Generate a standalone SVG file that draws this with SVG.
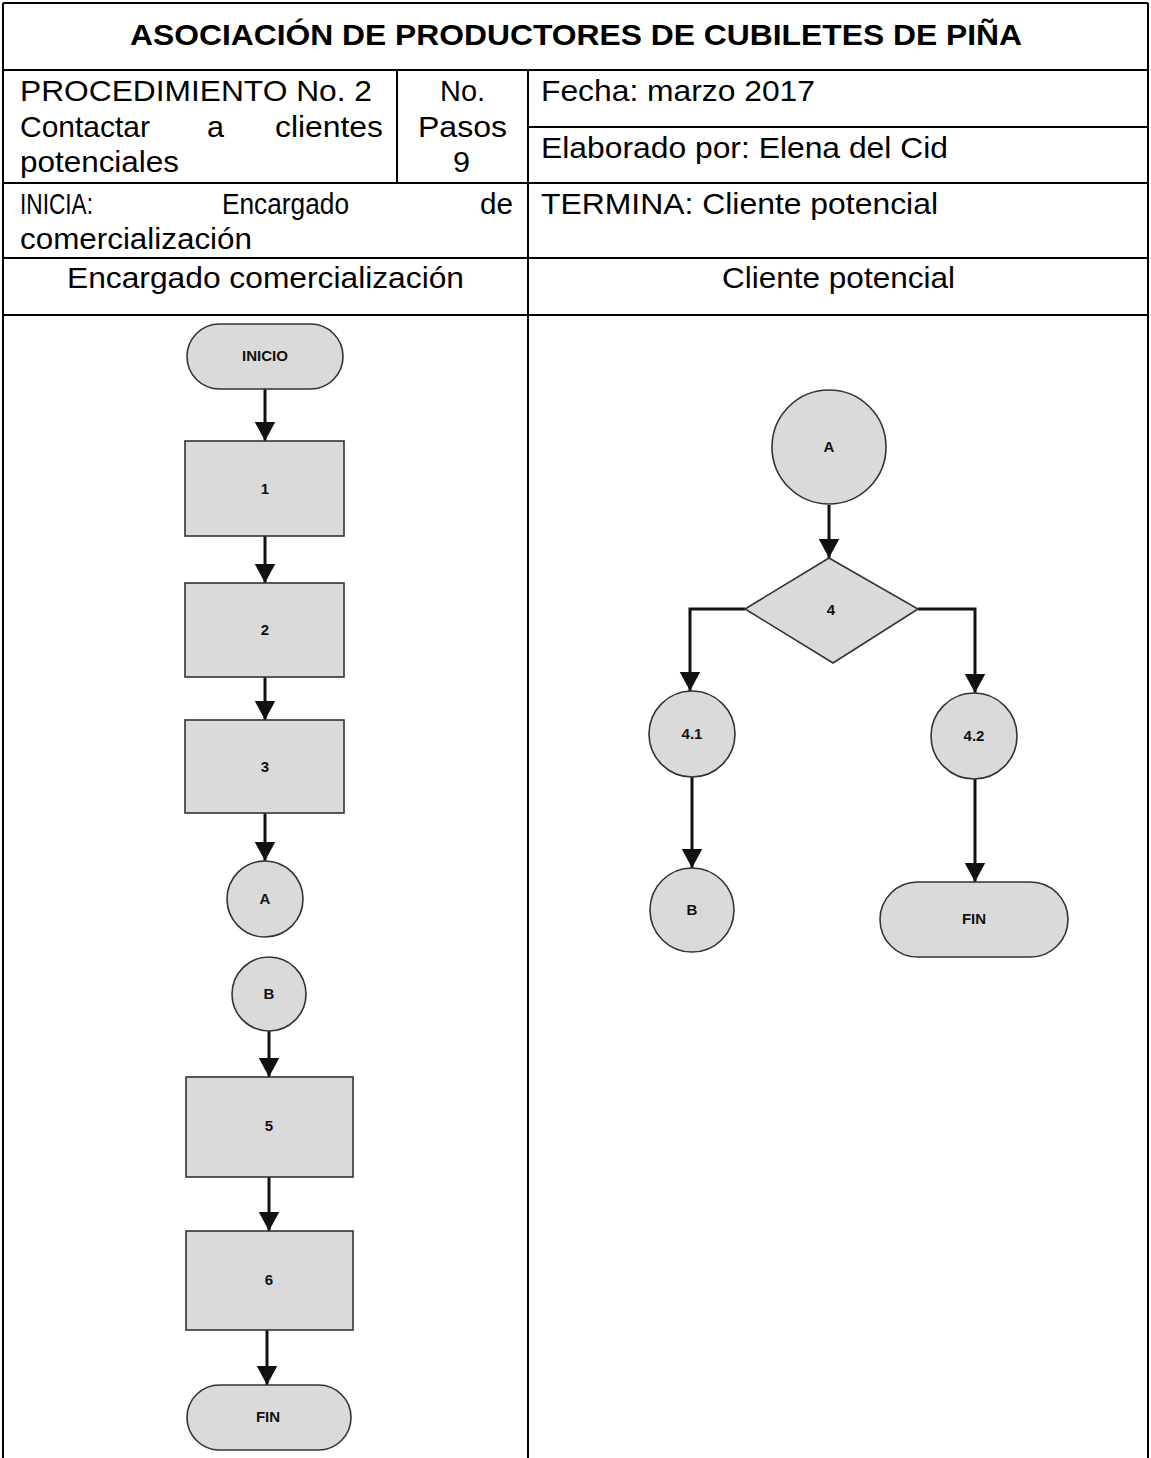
<svg xmlns="http://www.w3.org/2000/svg" width="1151" height="1458" viewBox="0 0 1151 1458">
<style>
.grid{stroke:#000;stroke-width:2;fill:none}
.h{font-family:"Liberation Sans Narrow","Liberation Sans",Arial,sans-serif;font-size:29px;fill:#000}
.t{font-weight:bold;font-size:30px}
.shape{fill:#dadada;stroke:#333;stroke-width:1.6}
.lbl{font-family:"Liberation Sans","DejaVu Sans",sans-serif;font-size:15px;font-weight:bold;fill:#111;text-anchor:middle}
.con{stroke:#111;stroke-width:3;fill:none}
</style>
<defs>
<marker id="arr" markerWidth="9" markerHeight="9" refX="6.5" refY="4.5" orient="auto" markerUnits="strokeWidth">
<path d="M0,1 L6.5,4.5 L0,8 z" fill="#111"/>
</marker>
</defs>
<rect width="1151" height="1458" fill="#fff"/>
<g id="table">
<path class="grid" d="M3,3 H1148 M3,3 V1458 M1148,3 V1458 M3,70 H1148 M3,183 H1148 M3,258 H1148 M3,315 H1148 M397,70 V183 M528,70 V1458 M528,127 H1148"/>
<text class="h t" x="130" y="45" textLength="892" lengthAdjust="spacingAndGlyphs">ASOCIACIÓN DE PRODUCTORES DE CUBILETES DE PIÑA</text>
<text class="h" x="20" y="101" textLength="352" lengthAdjust="spacingAndGlyphs">PROCEDIMIENTO No. 2</text>
<text class="h" x="20" y="137" textLength="130" lengthAdjust="spacingAndGlyphs">Contactar</text>
<text class="h" x="207" y="137" textLength="17" lengthAdjust="spacingAndGlyphs">a</text>
<text class="h" x="275" y="137" textLength="108" lengthAdjust="spacingAndGlyphs">clientes</text>
<text class="h" x="20" y="172" textLength="159" lengthAdjust="spacingAndGlyphs">potenciales</text>
<text class="h" x="440" y="101" textLength="45" lengthAdjust="spacingAndGlyphs">No.</text>
<text class="h" x="418" y="137" textLength="89" lengthAdjust="spacingAndGlyphs">Pasos</text>
<text class="h" x="453" y="172" textLength="17" lengthAdjust="spacingAndGlyphs">9</text>
<text class="h" x="541" y="101" textLength="274" lengthAdjust="spacingAndGlyphs">Fecha: marzo 2017</text>
<text class="h" x="541" y="158" textLength="407" lengthAdjust="spacingAndGlyphs">Elaborado por: Elena del Cid</text>
<text class="h" x="20" y="214" textLength="73" lengthAdjust="spacingAndGlyphs">INICIA:</text>
<text class="h" x="222" y="214" textLength="127" lengthAdjust="spacingAndGlyphs">Encargado</text>
<text class="h" x="480" y="214" textLength="33" lengthAdjust="spacingAndGlyphs">de</text>
<text class="h" x="20" y="249" textLength="232" lengthAdjust="spacingAndGlyphs">comercialización</text>
<text class="h" x="541" y="214" textLength="397" lengthAdjust="spacingAndGlyphs">TERMINA: Cliente potencial</text>
<text class="h" x="67" y="288" textLength="397" lengthAdjust="spacingAndGlyphs">Encargado comercialización</text>
<text class="h" x="722" y="288" textLength="233" lengthAdjust="spacingAndGlyphs">Cliente potencial</text>
</g>
<g id="connectors">
<path class="con" marker-end="url(#arr)" d="M265,389 V441"/>
<path class="con" marker-end="url(#arr)" d="M265,536 V583"/>
<path class="con" marker-end="url(#arr)" d="M265,677 V720"/>
<path class="con" marker-end="url(#arr)" d="M265,813 V861"/>
<path class="con" marker-end="url(#arr)" d="M269,1031 V1077"/>
<path class="con" marker-end="url(#arr)" d="M269,1177 V1231"/>
<path class="con" marker-end="url(#arr)" d="M267,1330 V1385"/>
<path class="con" marker-end="url(#arr)" d="M829,505 V558"/>
<path class="con" marker-end="url(#arr)" d="M745,609 H690 V691"/>
<path class="con" marker-end="url(#arr)" d="M918,609 H975 V693"/>
<path class="con" marker-end="url(#arr)" d="M692,777 V868"/>
<path class="con" marker-end="url(#arr)" d="M975,779 V882"/>
</g>
<g id="inicio"><rect class="shape" x="187" y="324" width="156" height="65" rx="32.5"/><text class="lbl" x="265" y="361" textLength="46" lengthAdjust="spacingAndGlyphs">INICIO</text></g>
<g id="step1"><rect class="shape" x="185" y="441" width="159" height="95"/><text class="lbl" x="265" y="494">1</text></g>
<g id="step2"><rect class="shape" x="185" y="583" width="159" height="94"/><text class="lbl" x="265" y="635">2</text></g>
<g id="step3"><rect class="shape" x="185" y="720" width="159" height="93"/><text class="lbl" x="265" y="772">3</text></g>
<g id="connA1"><circle class="shape" cx="265" cy="899" r="38"/><text class="lbl" x="265" y="904">A</text></g>
<g id="connB1"><circle class="shape" cx="269" cy="994" r="37"/><text class="lbl" x="269" y="999">B</text></g>
<g id="step5"><rect class="shape" x="186" y="1077" width="167" height="100"/><text class="lbl" x="269" y="1131">5</text></g>
<g id="step6"><rect class="shape" x="186" y="1231" width="167" height="99"/><text class="lbl" x="269" y="1285">6</text></g>
<g id="fin1"><rect class="shape" x="187" y="1385" width="164" height="65" rx="32.5"/><text class="lbl" x="268" y="1422">FIN</text></g>
<g id="connA2"><circle class="shape" cx="829" cy="447" r="57"/><text class="lbl" x="829" y="452">A</text></g>
<g id="decision4"><polygon class="shape" points="829,558 918,609 833,663 745,609"/><text class="lbl" x="831" y="615">4</text></g>
<g id="step41"><circle class="shape" cx="692" cy="734" r="43"/><text class="lbl" x="692" y="739">4.1</text></g>
<g id="step42"><circle class="shape" cx="974" cy="736" r="43"/><text class="lbl" x="974" y="741">4.2</text></g>
<g id="connB2"><circle class="shape" cx="692" cy="910" r="42"/><text class="lbl" x="692" y="915">B</text></g>
<g id="fin2"><rect class="shape" x="880" y="882" width="188" height="75" rx="37.5"/><text class="lbl" x="974" y="924">FIN</text></g>
</svg>
